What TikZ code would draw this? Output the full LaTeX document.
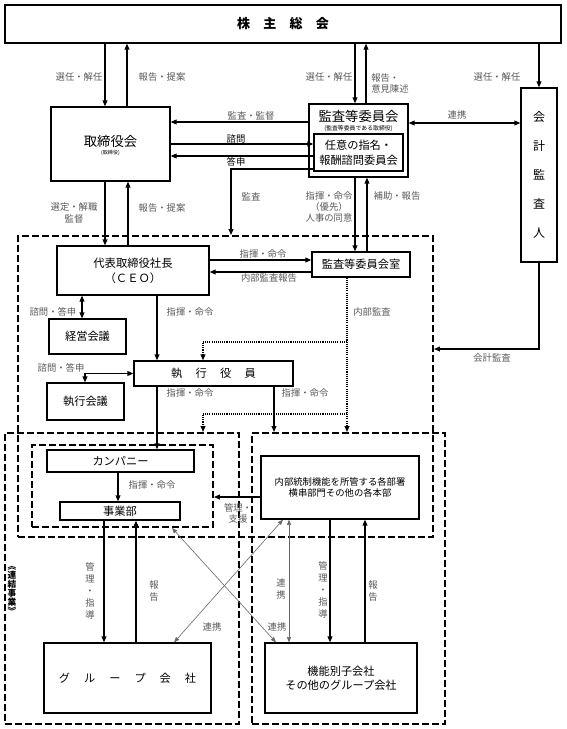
\documentclass[tikz,border=0pt]{standalone}
\usepackage{fontspec}
\setmainfont{Noto Sans CJK JP}
\usetikzlibrary{arrows.meta,fit,calc}
\begin{document}
\begin{tikzpicture}[x=0.75pt,y=-0.75pt,
  box/.style={draw, line width=0.9pt, inner sep=0pt, align=center, font=\fontsize{8.4}{10}\selectfont},
  lbl/.style={inner sep=0pt, align=center, text=black!65, font=\fontsize{7}{8.5}\selectfont},
  vlbl/.style={inner sep=0pt, align=center, text=black!65, font=\fontsize{7}{9}\selectfont},
  arr/.style={line width=0.9pt, -{Triangle[length=4.5pt,width=3.6pt]}},
  darr/.style={line width=0.9pt, {Triangle[length=4.5pt,width=3.6pt]}-{Triangle[length=4.5pt,width=3.6pt]}},
  thinarr/.style={line width=0.45pt, draw=black!60, {Triangle[length=4pt,width=3pt]}-{Triangle[length=4pt,width=3pt]}},
  dbox/.style={draw, line width=1.4pt, dash pattern=on 5pt off 2.5pt, inner sep=0pt},
  dotln/.style={line width=1pt, dash pattern=on 0.8pt off 0.8pt, -{Triangle[length=4.5pt,width=3.6pt]}},
]
\useasboundingbox (0,0) rectangle (567,729);

% dashed groups
\node[dbox, fit={(18,236)(433,537)}] (bigd) {};
\node[dbox, fit={(5,433)(239,724)}] (lld) {};
\node[dbox, fit={(252,433)(445,724)}] (lrd) {};
\node[dbox, fit={(32,445)(213,527)}] (ind) {};

% boxes
\node[box, minimum width=417pt, minimum height=28.5pt, font=\bfseries\fontsize{9.75}{11}\selectfont] (gm) at (283,24) {株\hspace{10pt}主\hspace{10pt}総\hspace{10pt}会};
\node[box, minimum width=89.25pt, minimum height=55.5pt] (tb) at (110.5,144) {};
\node[inner sep=0pt, font=\fontsize{10}{12}\selectfont] (tbt) at (110.5,141) {取締役会};
\node[inner sep=0pt, font=\fontsize{3.8}{4.5}\selectfont] (tbs) at (110.5,153) {(取締役)};
\node[box, minimum width=74.25pt, minimum height=54.75pt] (ac) at (358.5,140.5) {};
\node[inner sep=0pt, font=\fontsize{10}{12}\selectfont] (act) at (358.5,116) {監査等委員会};
\node[inner sep=0pt, font=\fontsize{4.4}{5}\selectfont] (acs) at (358.5,128.5) {(監査等委員である取締役)};
\node[box, minimum width=66.75pt, minimum height=27.75pt, font=\fontsize{8.4}{11.2}\selectfont] (nc) at (358.5,152.5) {任意の指名・\\報酬諮問委員会};
\node[box, minimum width=27pt, minimum height=130.5pt, font=\fontsize{9}{21.75}\selectfont] (ca) at (539,175) {会\\計\\監\\査\\人};

\node[box, minimum width=114pt, minimum height=36.75pt, font=\fontsize{8.5}{11}\selectfont] (ceo) at (133,270.5) {代表取締役社長\\（ＣＥＯ）};
\node[box, minimum width=73.5pt, minimum height=18.75pt] (acr) at (361,264.5) {監査等委員会室};
\node[box, minimum width=57.75pt, minimum height=26.25pt] (km) at (87.5,336.5) {経営会議};
\node[box, minimum width=119.25pt, minimum height=18.75pt] (ex) at (213.5,373.5) {執\hspace{10pt}行\hspace{10pt}役\hspace{10pt}員};
\node[box, minimum width=57.75pt, minimum height=27.75pt] (ek) at (85.5,401.5) {執行会議};
\node[box, minimum width=110.25pt, minimum height=16.5pt] (comp) at (120.5,461) {カンパニー};
\node[box, minimum width=90pt, minimum height=13.5pt] (jb) at (120,511) {事業部};
\node[box, minimum width=118.5pt, minimum height=47.25pt, font=\fontsize{7}{8.5}\selectfont] (ic) at (340,487.5) {内部統制機能を所管する各部署\\横串部門その他の各本部};
\node[box, minimum width=125.25pt, minimum height=52.5pt] (gc) at (127.5,678) {グ\hspace{10.5pt}ル\hspace{10.5pt}ー\hspace{10.5pt}プ\hspace{10.5pt}会\hspace{10.5pt}社};
\node[box, minimum width=114pt, minimum height=52.5pt, font=\fontsize{8.4}{10.5}\selectfont] (kc) at (341,678) {機能別子会社\\その他のグループ会社};

% top connectors
\draw[arr] (gm.south -| 105,0) -- (tb.north -| 105,0);
\draw[arr] (tb.north -| 127,0) -- (gm.south -| 127,0);
\draw[arr] (gm.south -| 355,0) -- (ac.north -| 355,0);
\draw[arr] (ac.north -| 366,0) -- (gm.south -| 366,0);
\draw[arr] (gm.south -| 539,0) -- (ca.north -| 539,0);

\draw[arr] (ac.west |- 0,122) -- (tb.east |- 0,122);
\draw[arr] (tb.east |- 0,144) -- (nc.west |- 0,144);
\draw[arr] (nc.west |- 0,156) -- (tb.east |- 0,156);
\draw[arr] (nc.west |- 0,169) -| (bigd.north -| 231,0);
\draw[darr] (ac.east |- 0,123) -- (ca.west |- 0,123);

\draw[arr] (tb.south -| 105,0) -- (ceo.north -| 105,0);
\draw[arr] (ceo.north -| 128,0) -- (tb.south -| 128,0);
\draw[arr] (ac.south -| 355,0) -- (acr.north -| 355,0);
\draw[arr] (acr.north -| 367,0) -- (ac.south -| 367,0);

\draw[arr] (ceo.east |- 0,260) -- (acr.west |- 0,260);
\draw[arr] (acr.west |- 0,272) -- (ceo.east |- 0,272);
\draw[darr] (ceo.south -| 82,0) -- (km.north -| 82,0);
\draw[arr] (ceo.south -| 157,0) -- (ex.north -| 157,0);
\draw[darr] (ek.north -| 85,0) |- (ex.west);
\draw[arr] (ca.south -| 539,0) |- (bigd.east |- 0,349);

% dotted internal audit
\coordinate (d1) at (347,342);
\coordinate (d2) at (347,414);
\draw[dotln] (acr.south -| 347,0) -- (lrd.north -| 347,0);
\draw[dotln] (d1) -- (d1 -| 203,0) -- (ex.north -| 203,0);
\draw[dotln] (d2) -- (d2 -| 203,0) -- (lld.north -| 203,0);

\draw[arr] (ex.south -| 157,0) -- (comp.north -| 157,0);
\draw[arr] (ex.south -| 274,0) -- (lrd.north -| 274,0);
\draw[arr] (comp.south -| 118,0) -- (jb.north -| 118,0);
\draw[arr] (ic.west |- 0,497) -- (ind.east |- 0,497);

\draw[arr] (jb.south -| 104,0) -- (gc.north -| 104,0);
\draw[arr] (gc.north -| 136,0) -- (jb.south -| 136,0);
\draw[arr] (ic.south -| 330,0) -- (kc.north -| 330,0);
\draw[arr] (kc.north -| 365,0) -- (ic.south -| 365,0);
\draw[thinarr] (ic.south -| 289,0) -- (kc.north -| 289,0);
\draw[thinarr] (ind.south -| 172,0) -- (kc.north -| 276,0);
\draw[thinarr] (ic.south -| 283,0) -- (gc.north -| 174,0);

% labels
\node[lbl] (l1) at (79,77) {選任・解任};
\node[lbl] (l2) at (162,77) {報告・提案};
\node[lbl] (l3) at (329,77) {選任・解任};
\node[lbl, anchor=west, align=left] (l4) at (371,83.5) {報告・\\意見陳述};
\node[lbl] (l5) at (497,77) {選任・解任};
\node[lbl] (l6) at (251,116) {監査・監督};
\node[lbl, text=black] (l7) at (236,139) {諮問};
\node[lbl, text=black] (l8) at (236,162) {答申};
\node[lbl] (l9) at (251,197) {監査};
\node[lbl] (l10) at (457,115) {連携};
\node[lbl] (l11) at (74,213) {選定・解職\\監督};
\node[lbl] (l12) at (162,208) {報告・提案};
\node[lbl, font=\fontsize{7}{8.3}\selectfont] (l13) at (329,207) {指揮・命令\\（優先）\\人事の同意};
\node[lbl] (l14) at (397,196) {補助・報告};
\node[lbl] (l15) at (263,254) {指揮・命令};
\node[lbl] (l16) at (269,278) {内部監査報告};
\node[lbl] (l17) at (53,312) {諮問・答申};
\node[lbl] (l18) at (190,312) {指揮・命令};
\node[lbl] (l19) at (372,312) {内部監査};
\node[lbl] (l20) at (61,368) {諮問・答申};
\node[lbl] (l21) at (190,393) {指揮・命令};
\node[lbl] (l22) at (305,393) {指揮・命令};
\node[lbl] (l23) at (492,358) {会計監査};
\node[lbl] (l24) at (152,485) {指揮・命令};
\node[lbl] (l25) at (238,513.5) {管理・\\支援};
\node[vlbl] (l26) at (90,591) {管\\理\\・\\指\\導};
\node[vlbl] (l27) at (154,591) {報\\告};
\node[vlbl] (l28) at (281,589) {連\\携};
\node[vlbl] (l29) at (323,590) {管\\理\\・\\指\\導};
\node[vlbl] (l30) at (373,591) {報\\告};
\node[lbl] (l31) at (212,627) {連携};
\node[lbl] (l32) at (277,627) {連携};
\node[inner sep=0pt, align=center, font=\bfseries\fontsize{6.5}{6.75}\selectfont] (l33) at (12,590) {︽\\連\\結\\事\\業\\︾};
\end{tikzpicture}
\end{document}
